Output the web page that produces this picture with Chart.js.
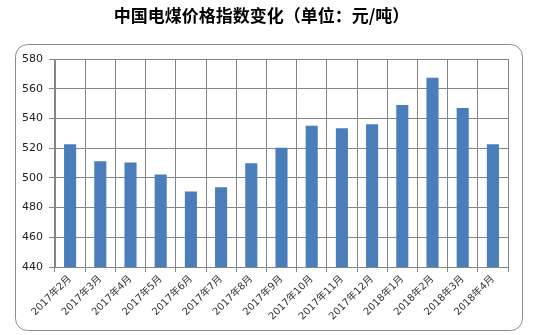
<!DOCTYPE html>
<html>
<head>
<meta charset="utf-8">
<script src="https://cdn.jsdelivr.net/npm/chart.js@4"></script>
<style>
  html, body { margin: 0; padding: 0; background: #fff; }
  #wrap { width: 534px; height: 335px; position: relative; }
</style>
</head>
<body>
<div id="wrap"><canvas id="chart"></canvas></div>
<script>
const months = ["2017年2月", "2017年3月", "2017年4月", "2017年5月", "2017年6月", "2017年7月", "2017年8月",
    "2017年9月", "2017年10月", "2017年11月", "2017年12月", "2018年1月", "2018年2月", "2018年3月", "2018年4月"];
const priceIndex = [522.6, 511.1, 510.4, 502.3, 490.9, 493.6, 509.9, 520.3, 535, 533.4, 536.1, 549, 567.3, 547, 522.6];
const yTicks = [440, 460, 480, 500, 520, 540, 560, 580];

const titleText = "中国电煤价格指数变化（单位：元/吨）";
const gridColor = "#858585";
const barColor = "#4a7ebb";

// rounded frame around the plot, like the excel chart border
const framePlugin = {
    id: "frame",
    beforeDraw(chart) {
        const ctx = chart.ctx;
        ctx.save();
        ctx.strokeStyle = "#8c8c8c";
        ctx.lineWidth = 1;
        ctx.beginPath();
        ctx.roundRect(15.5, 44.5, 507, 286, 12);
        ctx.stroke();
        ctx.restore();
    }
};

new Chart(document.getElementById("chart"), {
    type: "bar",
    data: {
        labels: months,
        datasets: [{
            label: "电煤价格指数",
            data: priceIndex,
            backgroundColor: barColor,
            categoryPercentage: 1,
            barPercentage: 0.4,
        }],
    },
    options: {
        responsive: true,
        maintainAspectRatio: false,
        animation: false,
        layout: { padding: { left: 15, right: 26, top: 0, bottom: 0 } },
        plugins: {
            legend: { display: false },
            tooltip: { enabled: false },
            title: {
                display: true,
                text: titleText,
                color: "#000",
                font: { family: "'Noto Sans CJK SC'", size: 17, weight: "bold", lineHeight: 1.2 },
                padding: { top: 5, bottom: 33.6 },
            },
        },
        scales: {
            x: {
                grid: { color: gridColor, lineWidth: 1, tickLength: 5, offset: true },
                border: { color: gridColor },
                ticks: {
                    color: "#333",
                    font: { family: "'DejaVu Sans', 'Noto Sans CJK SC'", size: 10 },
                    maxRotation: 45,
                    minRotation: 45,
                    autoSkip: false,
                    padding: 1,
                },
                afterFit(scale) { scale.height = 68; },
            },
            y: {
                min: 440,
                max: 580,
                afterBuildTicks(scale) { scale.ticks = yTicks.map(v => ({ value: v })); },
                grid: { color: gridColor, lineWidth: 1, tickLength: 6 },
                border: { color: gridColor },
                ticks: {
                    color: "#222",
                    font: { family: "'DejaVu Sans'", size: 11 },
                    padding: 6,
                },
                afterFit(scale) { scale.width = 40; },
            },
        },
    },
    plugins: [framePlugin],
});
</script>
</body>
</html>
